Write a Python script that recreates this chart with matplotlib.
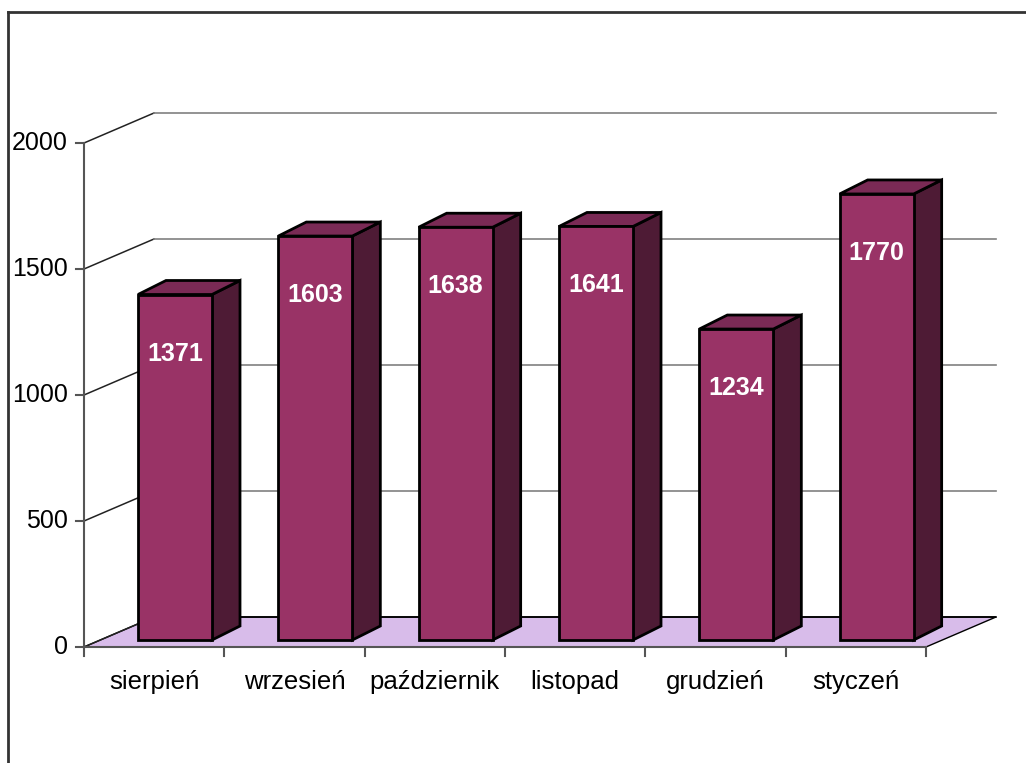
import matplotlib
matplotlib.use("Agg")
import matplotlib.pyplot as plt
from matplotlib.patches import Polygon
from matplotlib.lines import Line2D

plt.rcParams['font.family'] = ['Liberation Sans', 'DejaVu Sans']

# data
months = ['sierpień', 'wrzesień', 'październik', 'listopad', 'grudzień', 'styczeń']
values = [1371, 1603, 1638, 1641, 1234, 1770]
y_ticks = [0, 500, 1000, 1500, 2000]

# look
FRONT = '#993366'
TOP = '#7a2a55'
SIDE = '#4e1b35'
FLOOR = '#d8bcea'
GRID = '#808080'

# pseudo 3d geometry (category units / value units)
W_PX, H_PX = 1026, 763
X0_PX, Y0_PX = 84, 647          # front origin in pixels
CAT_PX = 842 / 6
VAL_PX = 126 / 500
WALL_DX, WALL_DY = 70 / CAT_PX, 30 / VAL_PX
BAR_OFF, BAR_W = 54 / CAT_PX, 74 / CAT_PX
BAR_DX, BAR_DY = 28 / CAT_PX, 14 / VAL_PX
BAR_BASE = 7 / VAL_PX

fig = plt.figure(figsize=(W_PX / 100, H_PX / 100), dpi=100)
ax = fig.add_axes([0, 0, 1, 1])
ax.set_xlim(-X0_PX / CAT_PX, (W_PX - X0_PX) / CAT_PX)
ax.set_ylim((Y0_PX - H_PX) / VAL_PX, Y0_PX / VAL_PX)
ax.axis('off')

n = len(months)

# floor
ax.add_patch(Polygon([(0, 0), (n, 0), (n + WALL_DX, WALL_DY), (WALL_DX, WALL_DY)],
                     closed=True, facecolor=FLOOR, edgecolor='black', lw=1, zorder=1))

# grid lines (left wall + back wall)
for v in y_ticks:
    ax.plot([0, WALL_DX], [v, v + WALL_DY], color='#222222', lw=1.1, zorder=2)
    ax.plot([WALL_DX, n + WALL_DX], [v + WALL_DY, v + WALL_DY],
            color=GRID if v else 'black', lw=1.2, zorder=2)

# axes
ax.plot([0, 0], [0, y_ticks[-1]], color='#555555', lw=1.5, zorder=3)
ax.plot([0, n], [0, 0], color='#555555', lw=1.5, zorder=3)
for v in y_ticks:
    ax.plot([-8 / CAT_PX, 0], [v, v], color='#555555', lw=1.5, zorder=3)
    ax.text(-16 / CAT_PX, v, str(v), ha='right', va='center', fontsize=18)
for i in range(n + 1):
    ax.plot([i, i], [0, -9 / VAL_PX], color='#555555', lw=1.5, zorder=3)
for i, m in enumerate(months):
    ax.text(i + 0.5, -35 / VAL_PX, m, ha='center', va='center', fontsize=18.5)

# bars
for i, v in enumerate(values):
    x0 = i + BAR_OFF
    x1 = x0 + BAR_W
    y0 = BAR_BASE
    y1 = BAR_BASE + v
    z = 5 + i
    ax.add_patch(Polygon([(x1, y0), (x1 + BAR_DX, y0 + BAR_DY), (x1 + BAR_DX, y1 + BAR_DY), (x1, y1)],
                         closed=True, facecolor=SIDE, edgecolor='black', lw=2, zorder=z))
    ax.add_patch(Polygon([(x0, y1), (x1, y1), (x1 + BAR_DX, y1 + BAR_DY), (x0 + BAR_DX, y1 + BAR_DY)],
                         closed=True, facecolor=TOP, edgecolor='black', lw=2, zorder=z))
    ax.add_patch(Polygon([(x0, y0), (x1, y0), (x1, y1), (x0, y1)],
                         closed=True, facecolor=FRONT, edgecolor='black', lw=2, zorder=z))
    ax.text((x0 + x1) / 2, y1 - 59 / VAL_PX, str(v), ha='center', va='center',
            fontsize=18, fontweight='bold', color='white', zorder=z + 0.5)

# chart frame (cropped at right and bottom)
fx, fy = 8 / W_PX, 1 - 12 / H_PX
fig.add_artist(Line2D([fx, fx], [0, fy], color='#333333', lw=2))
fig.add_artist(Line2D([fx, 1], [fy, fy], color='#333333', lw=2))

fig.savefig('out.png', dpi=100)
